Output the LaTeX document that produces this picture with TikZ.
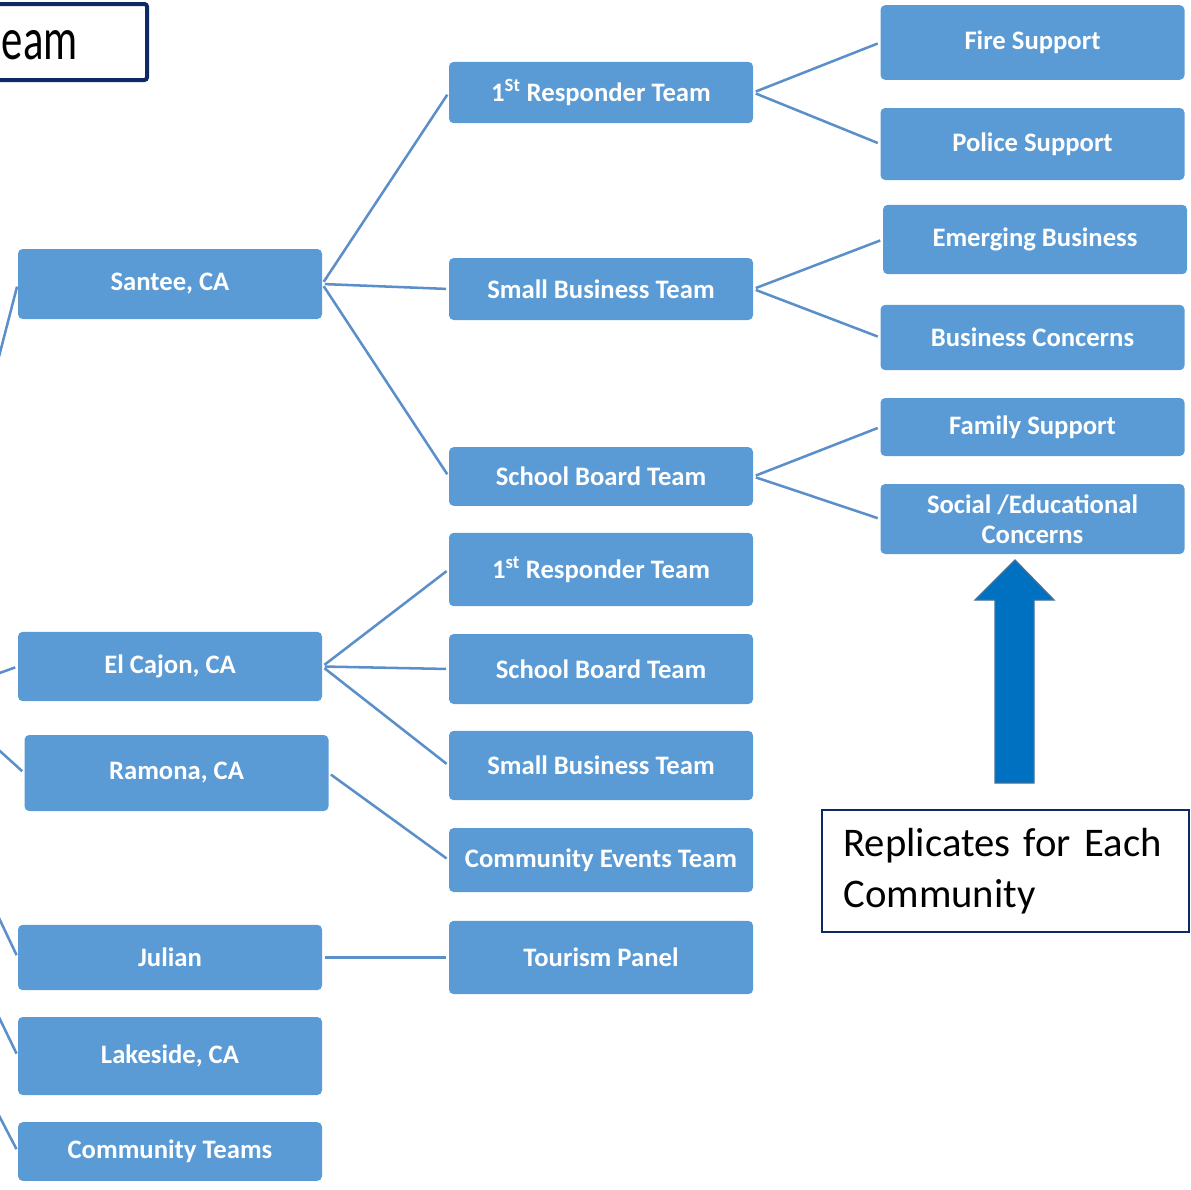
\documentclass[tikz,border=0pt]{standalone}
\usepackage{fontspec}
\setmainfont{Carlito}
\usetikzlibrary{positioning,calc}
\definecolor{boxblue}{HTML}{5B9BD5}
\definecolor{lineblue}{HTML}{5A8FC9}
\definecolor{navy}{HTML}{0E2A66}
\definecolor{arrowblue}{HTML}{0070C0}
\definecolor{arrowedge}{HTML}{41719C}
\begin{document}
\begin{tikzpicture}[x=0.75pt,y=-0.75pt,
  team/.style={rectangle,rounded corners=3.5pt,fill=boxblue,text=white,
    font=\bfseries\fontsize{20}{22.5}\selectfont,minimum width=228pt,align=center,inner sep=0pt},
  link/.style={lineblue,line width=1.9pt,shorten <=2pt,shorten >=2pt}]
  \useasboundingbox (0,0) rectangle (1191,1189);
  \clip (0,0) rectangle (1191,1189);

  \node (teambox) [draw=navy,line width=3pt,rounded corners=2pt,anchor=east,
    minimum width=225pt,minimum height=57pt] at (149,42) {};
  \node (teamtext) [anchor=base east,inner sep=0pt,font=\fontsize{32}{34}\selectfont]
    at (78,59) {\scalebox{1}[1.4]{eam}};

  \node (santee)    [team,minimum height=52.5pt] at (170,284) {Santee, CA};
  \node (elcajon)   [team,minimum height=52pt]   at (170,666.5) {El Cajon, CA};
  \node (ramona)    [team,minimum height=57pt]   at (176.5,773) {Ramona, CA};
  \node (julian)    [team,minimum height=49pt]   at (170,957.5) {Julian};
  \node (lakeside)  [team,minimum height=58.5pt] at (170,1056) {Lakeside, CA};
  \node (commteams) [team,minimum height=44pt]   at (170,1151.5) {Community Teams};

  \node (resp1)   [team,minimum height=46pt]   at (601,92.5) {1\textsuperscript{St} Responder Team};
  \node (small1)  [team,minimum height=46.5pt] at (601,289) {Small Business Team};
  \node (school1) [team,minimum height=44pt]   at (601,476.5) {School Board Team};
  \node (resp2)   [team,minimum height=55pt]   at (601,569.5) {1\textsuperscript{st} Responder Team};
  \node (school2) [team,minimum height=52.5pt] at (601,669) {School Board Team};
  \node (small2)  [team,minimum height=52pt]   at (601,765.5) {Small Business Team};
  \node (events)  [team,minimum height=48pt]   at (601,860) {Community Events Team};
  \node (tourism) [team,minimum height=55pt]   at (601,957.5) {Tourism Panel};

  \node (fire)     [team,minimum height=56pt]   at (1032.5,42.5) {Fire Support};
  \node (police)   [team,minimum height=54pt]   at (1032.5,144) {Police Support};
  \node (emerging) [team,minimum height=52pt]   at (1035,239.5) {Emerging Business};
  \node (concerns) [team,minimum height=49pt]   at (1032.5,337.5) {Business Concerns};
  \node (family)   [team,minimum height=43.5pt] at (1032.5,427) {Family Support};
  \node (social)   [team,minimum height=52.5pt] at (1032.5,519) {Social /Educational\\Concerns};

  \node (replicates) [draw=navy,line width=1.4pt,minimum width=275pt,minimum height=91.5pt,
    text width=243pt,inner xsep=15.75pt,align=left,font=\fontsize{30.5}{38}\selectfont]
    at (1005.5,871) {Replicates for Each\\Community};

  \draw [arrowedge,fill=arrowblue,line width=1pt] (1015,560) -- (1054,600) -- (1034,600)
    -- (1034,783) -- (995,783) -- (995,600) -- (975,600) -- cycle;

  \coordinate (in1) at (-20,430);
  \coordinate (in2) at (-20,680);
  \coordinate (in3) at (-20,733);
  \coordinate (in4) at (-20,878);
  \coordinate (in5) at (-20,978);
  \coordinate (in6) at (-20,1079);
  \draw [link,shorten <=0pt] (in1) to (santee.west);
  \draw [link,shorten <=0pt] (in2) to (elcajon.west);
  \draw [link,shorten <=0pt] (in3) to (ramona.west);
  \draw [link,shorten <=0pt] (in4) to (julian.west);
  \draw [link,shorten <=0pt] (in5) to (lakeside.west);
  \draw [link,shorten <=0pt] (in6) to (commteams.west);

  \draw [link] (santee.east) to (resp1.west);
  \draw [link] (santee.east) to (small1.west);
  \draw [link] (santee.east) to (school1.west);
  \draw [link] (resp1.east) to (fire.west);
  \draw [link] (resp1.east) to (police.west);
  \draw [link] (small1.east) to (emerging.west);
  \draw [link] (small1.east) to (concerns.west);
  \draw [link] (school1.east) to (family.west);
  \draw [link] (school1.east) to (social.west);
  \draw [link] (elcajon.east) to (resp2.west);
  \draw [link] (elcajon.east) to (school2.west);
  \draw [link] (elcajon.east) to (small2.west);
  \draw [link] (ramona.east) to (events.west);
  \draw [link] (julian.east) to (tourism.west);
\end{tikzpicture}
\end{document}
